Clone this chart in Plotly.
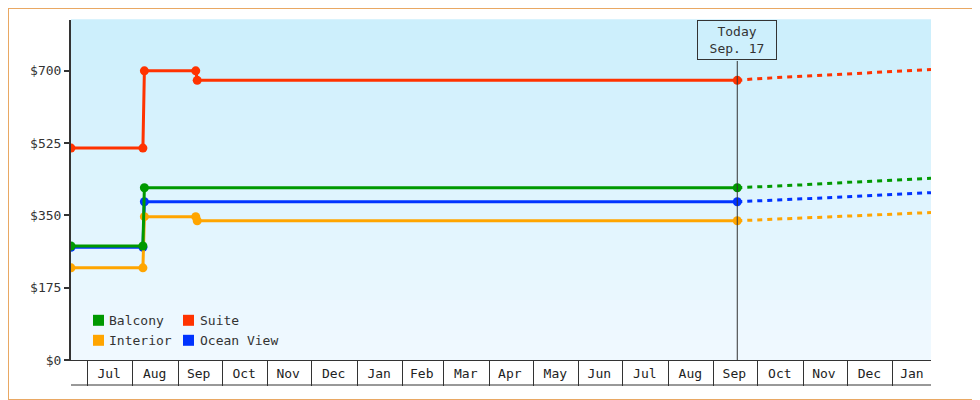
import plotly.graph_objects as go

# Price history (step changes) per cabin type
hist_dates = ["2013-06-20", "2013-08-08", "2013-08-09", "2013-09-13", "2013-09-14", "2014-09-17"]
balcony = [276, 276, 417, 417, 417, 417]
suite = [513, 513, 700, 700, 677, 677]
interior = [223, 223, 347, 347, 337, 337]
ocean_view = [273, 273, 383, 383, 383, 383]

# which history points carry a marker
balcony_marks = [True, True, True, False, False, True]
suite_marks = [True, True, True, True, True, True]
interior_marks = [True, True, True, True, True, True]
ocean_marks = [True, True, True, False, False, True]

# Forecast from today on
fc_dates = ["2014-09-17", "2014-10-01", "2014-11-01", "2014-12-01", "2015-01-01", "2015-01-27"]
balcony_fc = [417, 419, 424, 430, 436, 440]
suite_fc = [677, 681, 687, 693, 699, 703]
interior_fc = [337, 339, 343, 347, 353, 357]
ocean_fc = [383, 385, 390, 395, 401, 405]

names = ["Balcony", "Suite", "Interior", "Ocean View"]
colors = {"Balcony": "#009900", "Suite": "#FF3300", "Interior": "#FFA500", "Ocean View": "#0033FF"}

# X axis
month_starts = ["2013-07-01", "2013-08-01", "2013-09-01", "2013-10-01", "2013-11-01", "2013-12-01",
                "2014-01-01", "2014-02-01", "2014-03-01", "2014-04-01", "2014-05-01", "2014-06-01",
                "2014-07-01", "2014-08-01", "2014-09-01", "2014-10-01", "2014-11-01", "2014-12-01",
                "2015-01-01"]
label_dates = ["2013-07-16", "2013-08-16", "2013-09-15", "2013-10-16", "2013-11-15", "2013-12-16",
               "2014-01-16", "2014-02-14", "2014-03-16", "2014-04-15", "2014-05-16", "2014-06-15",
               "2014-07-16", "2014-08-16", "2014-09-15", "2014-10-16", "2014-11-15", "2014-12-16",
               "2015-01-14"]
month_labels = ["Jul", "Aug", "Sep", "Oct", "Nov", "Dec", "Jan", "Feb", "Mar", "Apr", "May", "Jun",
                "Jul", "Aug", "Sep", "Oct", "Nov", "Dec", "Jan"]
x_range = ["2013-06-20", "2015-01-27"]
today = "2014-09-17"
today_label = "Today<br>Sep. 17"

# Y axis
y_ticks = [0, 175, 350, 525, 700]
y_labels = ["$0", "$175", "$350", "$525", "$700"]
y_range = [0, 823]

FONT = "DejaVu Sans Mono"
# page body has an 8px margin, so the figure is 8px smaller and shifted
W, H = 972, 392
L, R, T, B = 63, 49, 12, 40
PW, PH = W - L - R, H - T - B

series = {
    "Balcony": (balcony, balcony_marks, balcony_fc),
    "Suite": (suite, suite_marks, suite_fc),
    "Interior": (interior, interior_marks, interior_fc),
    "Ocean View": (ocean_view, ocean_marks, ocean_fc),
}

fig = go.Figure()

for name in ["Ocean View", "Interior", "Balcony", "Suite"]:
    vals, marks, fc = series[name]
    c = colors[name]
    # forecast (dashed)
    fig.add_trace(go.Scatter(x=fc_dates, y=fc, mode="lines", name=name, showlegend=False,
                             line=dict(color=c, width=3, dash="5px,5px"), hoverinfo="skip"))
    # history line
    fig.add_trace(go.Scatter(x=hist_dates, y=vals, mode="lines", name=name, showlegend=False,
                             line=dict(color=c, width=3)))
    # markers
    mx = [d for d, m in zip(hist_dates, marks) if m]
    my = [v for v, m in zip(vals, marks) if m]
    fig.add_trace(go.Scatter(x=mx, y=my, mode="markers", name=name, showlegend=False,
                             marker=dict(color=c, size=9, line=dict(width=0))))

shapes = []

# gradient plot background
n_strips = 34
top_c = (204, 239, 252)
bot_c = (240, 249, 255)
for i in range(n_strips):
    f = i / (n_strips - 1)
    col = tuple(round(bot_c[k] + (top_c[k] - bot_c[k]) * f) for k in range(3))
    shapes.append(dict(type="rect", xref="x domain", yref="y domain",
                       x0=0, x1=1, y0=i / n_strips, y1=(i + 1) / n_strips + 0.002,
                       fillcolor="rgb(%d,%d,%d)" % col, line=dict(width=0), layer="below"))

# today line
shapes.append(dict(type="line", xref="x", yref="y domain", x0=today, x1=today,
                   y0=0, y1=1 - 41 / PH, line=dict(color="#333333", width=1)))

# bottom line of month row
shapes.append(dict(type="line", xref="x domain", yref="y domain", x0=0, x1=1,
                   y0=-25 / PH, y1=-25 / PH, line=dict(color="#333333", width=1)))

# outer border
shapes.append(dict(type="rect", xref="paper", yref="paper",
                   x0=-L / PW, x1=1 + R / PW, y0=-B / PH, y1=1 + T / PH,
                   line=dict(color="#E9A863", width=2), fillcolor="rgba(0,0,0,0)"))

annotations = [
    dict(x=today, y=1, xref="x", yref="y domain", yanchor="top", xanchor="center",
         text=today_label, showarrow=False, align="center",
         font=dict(family=FONT, size=13, color="#333333"),
         bordercolor="#333333", borderwidth=1, borderpad=2, width=74, height=34,
         bgcolor="rgba(0,0,0,0)")
]

# legend (2 x 2 grid of colour squares)
legend_cols = [[22, 35.7], [112, 127]]
legend_rows = [39.7, 19.7]
for idx, name in enumerate(names):
    col, row = idx % 2, idx // 2
    sx, tx = legend_cols[col]
    cy = legend_rows[row]
    shapes.append(dict(type="rect", xref="x domain", yref="y domain",
                       x0=sx / PW, x1=(sx + 11) / PW, y0=(cy - 5.5) / PH, y1=(cy + 5.5) / PH,
                       fillcolor=colors[name], line=dict(width=0)))
    annotations.append(dict(x=tx / PW, y=cy / PH, xref="x domain", yref="y domain",
                            xanchor="left", yanchor="middle", text=name, showarrow=False,
                            font=dict(family=FONT, size=13, color="#333333")))

fig.update_layout(
    width=W, height=H,
    margin=dict(l=L, r=R, t=T, b=B),
    paper_bgcolor="white",
    plot_bgcolor="rgb(240,249,255)",
    showlegend=False,
    font=dict(family=FONT, size=13, color="#333333"),
    shapes=shapes,
    annotations=annotations,
    xaxis=dict(
        type="date",
        range=x_range,
        showgrid=False, zeroline=False,
        showline=True, linecolor="#333333", linewidth=1,
        tickmode="array", tickvals=label_dates, ticktext=month_labels,
        ticks="", ticklabelstandoff=1,
        tickfont=dict(family=FONT, size=13, color="#222222"),
        minor=dict(tickmode="array", tickvals=month_starts, ticks="outside",
                   ticklen=25, tickwidth=1, tickcolor="#333333", showgrid=False),
    ),
    yaxis=dict(
        range=y_range,
        showgrid=False, zeroline=False,
        showline=True, linecolor="#333333", linewidth=2,
        tickmode="array", tickvals=y_ticks, ticktext=y_labels,
        ticks="outside", ticklen=5, tickwidth=2, tickcolor="#333333",
        tickfont=dict(family=FONT, size=13, color="#333333"),
    ),
)

fig.write_html("out.html")
